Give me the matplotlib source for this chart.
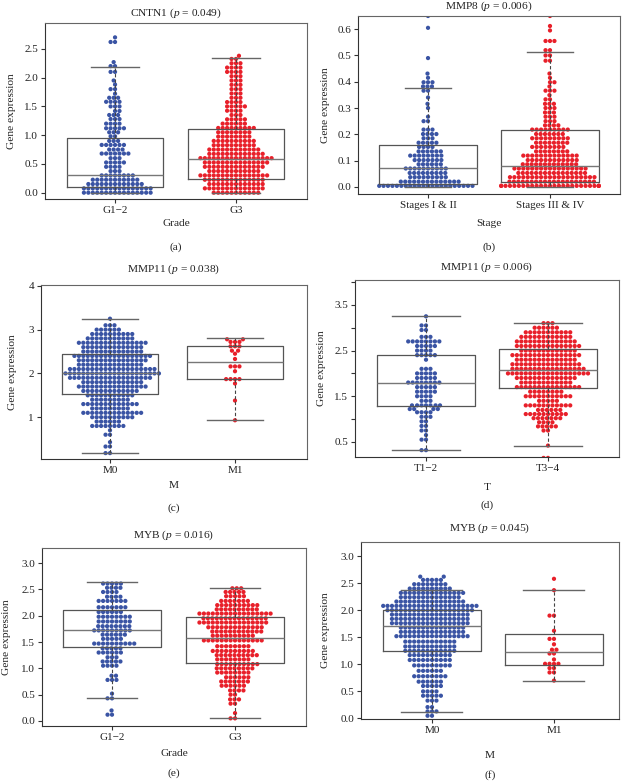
import matplotlib
matplotlib.use("Agg")
import matplotlib.pyplot as plt
import numpy as np
import pandas as pd
import seaborn as sns
import warnings

warnings.filterwarnings("ignore")

plt.rcParams['font.family'] = ['Liberation Serif', 'DejaVu Serif']
plt.rcParams['mathtext.fontset'] = 'custom'
plt.rcParams['mathtext.rm'] = 'Liberation Serif'
plt.rcParams['mathtext.it'] = 'Liberation Serif:italic'

W, H = 626, 781
BLUE = '#3a54a4'
RED = '#e8202a'

# ---- (a) CNTN1 by grade: swarm rows (value, number of points)
cntn1_g12_vals = [0.0, 0.075, 0.15, 0.225, 0.30, 0.375, 0.45, 0.525, 0.60, 0.68, 0.75, 0.83, 0.90,
                  0.98, 1.05, 1.12, 1.20, 1.28, 1.35, 1.42, 1.50, 1.58, 1.65, 1.72, 1.80, 1.88, 1.95,
                  2.10, 2.20, 2.27, 2.62, 2.70]
cntn1_g12_counts = [16, 16, 13, 11, 8, 3, 4, 5, 3, 7, 4, 6, 3, 2, 3, 5, 4, 3, 3, 2, 3, 4, 3, 1, 2, 1,
                    1, 2, 2, 1, 2, 1]
cntn1_g3_vals = [0.0, 0.075, 0.15, 0.225, 0.30, 0.375, 0.45, 0.525, 0.60, 0.675, 0.75, 0.825, 0.90,
                 0.975, 1.05, 1.125, 1.20, 1.275, 1.35, 1.425, 1.50, 1.575, 1.65, 1.725, 1.80, 1.875,
                 1.95, 2.025, 2.10, 2.175, 2.25, 2.325, 2.38]
cntn1_g3_counts = [11, 14, 13, 14, 16, 12, 14, 15, 17, 13, 12, 10, 10, 8, 8, 9, 6, 5, 3, 4, 5, 4, 3, 3,
                   3, 3, 3, 3, 4, 4, 3, 2, 1]
# box stats: [whislo, q1, median, q3, whishi]
cntn1_box = [[0.0, 0.10, 0.30, 0.95, 2.19], [0.0, 0.23, 0.58, 1.10, 2.35]]

# ---- (b) MMP8 by stage
mmp8_early_vals = [0.004, 0.02, 0.037, 0.053, 0.07, 0.086, 0.102, 0.119, 0.135, 0.152, 0.168, 0.185,
                   0.201, 0.218, 0.25, 0.267, 0.30, 0.316, 0.34, 0.366, 0.382, 0.398, 0.415, 0.431,
                   0.49, 0.605, 0.65]
mmp8_early_counts = [22, 14, 9, 9, 10, 6, 7, 8, 6, 4, 5, 3, 4, 3, 2, 1, 1, 1, 1, 2, 3, 3, 1, 1, 1, 1, 1]
mmp8_late_vals = [0.004, 0.02, 0.037, 0.053, 0.07, 0.086, 0.102, 0.119, 0.135, 0.152, 0.168, 0.185,
                  0.201, 0.218, 0.234, 0.25, 0.267, 0.283, 0.30, 0.316, 0.333, 0.349, 0.366, 0.382,
                  0.398, 0.415, 0.431, 0.48, 0.50, 0.52, 0.555, 0.595, 0.612, 0.65]
mmp8_late_counts = [26, 20, 20, 16, 17, 13, 12, 13, 8, 8, 8, 9, 7, 9, 4, 3, 3, 3, 3, 3, 2, 1, 3, 1,
                    2, 1, 1, 2, 2, 2, 3, 1, 1, 1]
mmp8_box = [[0.0, 0.01, 0.07, 0.16, 0.375], [0.0, 0.018, 0.08, 0.218, 0.513]]

# ---- (c) MMP11 by M
mmp11_m0_vals = [0.18, 0.33, 0.43, 0.6, 0.7, 0.8, 0.9, 1.0, 1.1, 1.2, 1.3, 1.4, 1.5, 1.6, 1.7, 1.8,
                 1.9, 2.0, 2.1, 2.2, 2.3, 2.4, 2.5, 2.6, 2.7, 2.8, 2.9, 3.0, 3.1, 3.25]
mmp11_m0_counts = [2, 2, 1, 2, 1, 8, 6, 10, 14, 9, 13, 9, 11, 13, 16, 14, 19, 22, 20, 15, 16, 18, 14,
                   14, 16, 11, 10, 6, 3, 1]
mmp11_m1_vals = [0.93, 1.38, 1.77, 1.87, 2.05, 2.16, 2.33, 2.45, 2.52, 2.62, 2.72, 2.78]
mmp11_m1_counts = [1, 1, 1, 4, 1, 3, 1, 1, 2, 3, 3, 2]
mmp11_m_box = [[0.18, 1.53, 2.0, 2.45, 3.25], [0.93, 1.87, 2.25, 2.63, 2.8]]

# ---- (d) MMP11 by T
mmp11_t12_vals = [0.32, 0.55, 0.65, 0.75, 0.85, 0.95, 1.05, 1.15, 1.22, 1.3, 1.4, 1.5, 1.6, 1.7, 1.8,
                  1.9, 2.0, 2.1, 2.3, 2.4, 2.5, 2.6, 2.7, 2.8, 2.95, 3.05, 3.25]
mmp11_t12_counts = [2, 2, 1, 2, 2, 2, 3, 4, 4, 7, 3, 4, 5, 5, 8, 5, 5, 3, 1, 5, 4, 5, 8, 3, 2, 2, 1]
mmp11_t34_vals = [0.15, 0.42, 0.75, 0.84, 0.93, 1.02, 1.11, 1.2, 1.3, 1.4, 1.5, 1.6, 1.7, 1.8, 1.9,
                  2.0, 2.1, 2.2, 2.3, 2.4, 2.5, 2.6, 2.7, 2.8, 2.9, 3.0, 3.1]
mmp11_t34_counts = [2, 1, 2, 5, 4, 7, 10, 6, 11, 5, 11, 8, 15, 12, 14, 19, 17, 16, 14, 16, 13, 15, 14,
                    12, 11, 6, 3]
mmp11_t_box = [[0.32, 1.28, 1.8, 2.4, 3.25], [0.42, 1.67, 2.08, 2.53, 3.1]]

# ---- (e) MYB by grade
myb_g12_vals = [0.12, 0.2, 0.43, 0.52, 0.78, 0.86, 1.05, 1.13, 1.21, 1.3, 1.38, 1.47, 1.56, 1.64,
                1.72, 1.8, 1.89, 1.98, 2.07, 2.16, 2.28, 2.36, 2.45, 2.53, 2.61]
myb_g12_counts = [2, 1, 2, 1, 3, 2, 4, 5, 3, 6, 5, 10, 5, 6, 9, 8, 8, 8, 6, 7, 7, 4, 4, 4, 5]
myb_g3_vals = [0.05, 0.15, 0.33, 0.41, 0.5, 0.58, 0.67, 0.75, 0.83, 0.92, 1.0, 1.08, 1.17, 1.25, 1.33,
               1.42, 1.53, 1.62, 1.7, 1.78, 1.87, 1.95, 2.04, 2.12, 2.2, 2.28, 2.37, 2.45, 2.52]
myb_g3_counts = [2, 1, 2, 3, 2, 4, 6, 7, 6, 8, 9, 10, 8, 10, 10, 8, 14, 10, 12, 13, 16, 15, 17, 10,
                 10, 7, 5, 5, 3]
myb_grade_box = [[0.43, 1.4, 1.72, 2.1, 2.63], [0.05, 1.1, 1.58, 1.98, 2.52]]

# ---- (f) MYB by M
myb_m0_vals = [0.05, 0.13, 0.21, 0.33, 0.42, 0.5, 0.6, 0.68, 0.78, 0.88, 0.98, 1.08, 1.17, 1.25, 1.33,
               1.42, 1.52, 1.60, 1.68, 1.76, 1.84, 1.92, 2.00, 2.08, 2.16, 2.24, 2.32, 2.40, 2.48,
               2.56, 2.62]
myb_m0_counts = [2, 3, 2, 3, 5, 4, 5, 6, 8, 6, 9, 10, 10, 12, 12, 12, 17, 15, 15, 18, 18, 18, 20, 22,
                 16, 14, 15, 10, 8, 5, 2]
myb_m1_vals = [0.7, 0.85, 0.93, 1.01, 1.09, 1.2, 1.27, 1.37, 1.47, 1.62, 1.9, 2.37, 2.58]
myb_m1_counts = [1, 2, 2, 4, 1, 2, 2, 1, 2, 1, 2, 1, 1]
myb_m_box = [[0.12, 1.25, 1.7, 2.01, 2.38], [0.7, 0.98, 1.22, 1.56, 2.38]]


def px_rect(l, t, r, b):
    return [l / W, 1 - b / H, (r - l) / W, (b - t) / H]


def panel(rect, cats, groups, box, ylim, yticks, ylabels, title, xlabel, letter,
          xlim, box_w, cap_w, title_y, xlab_y, letter_y, ylab_x):
    l, t, r, b = rect
    ax = fig.add_axes(px_rect(l, t, r, b))
    frames = []
    for c, (vals, cnts) in zip(cats, groups):
        frames.append(pd.DataFrame({'grp': c, 'val': np.repeat(vals, cnts)}))
    df = pd.concat(frames, ignore_index=True)
    sns.swarmplot(data=df, x='grp', y='val', hue='grp', order=cats, hue_order=cats,
                  palette=[BLUE, RED], size=3.05, linewidth=0, legend=False, ax=ax, zorder=1)
    stats = [dict(whislo=s[0], q1=s[1], med=s[2], q3=s[3], whishi=s[4]) for s in box]
    ax.bxp(stats, positions=[0, 1], widths=box_w, capwidths=cap_w, showfliers=False,
           manage_ticks=False,
           boxprops=dict(color='#555555', linewidth=0.9),
           medianprops=dict(color='#777777', linewidth=1.0),
           whiskerprops=dict(color='#444444', linewidth=0.8, linestyle=(0, (3, 2))),
           capprops=dict(color='#666666', linewidth=1.0), zorder=3)
    ax.set_xlim(*xlim)
    ax.set_ylim(*ylim)
    ax.set_yticks(yticks)
    ax.set_yticklabels(ylabels)
    ax.set_xticks([0, 1])
    ax.set_xticklabels(cats)
    ax.set_xlabel('')
    ax.set_ylabel('')
    ax.tick_params(direction='out', length=3, width=0.8, color='#333333', labelsize=8,
                   labelcolor='#222222', pad=2)
    for side in ['top', 'right']:
        ax.spines[side].set_color('#666666')
        ax.spines[side].set_linewidth(0.8)
    for side in ['left', 'bottom']:
        ax.spines[side].set_color('#333333')
        ax.spines[side].set_linewidth(0.8)
    cx = (l + r) / 2 / W
    fig.text(cx, 1 - title_y / H, title, ha='center', va='center', fontsize=8.2, color='#222222')
    fig.text(cx, 1 - xlab_y / H, xlabel, ha='center', va='center', fontsize=8.2, color='#222222')
    fig.text(cx, 1 - letter_y / H, letter, ha='center', va='center', fontsize=8.2, color='#222222')
    fig.text(ylab_x / W, 1 - (t + b) / 2 / H, 'Gene expression', rotation=90, ha='center',
             va='center', fontsize=8.2, color='#222222')
    return ax


fig = plt.figure(figsize=(W / 100, H / 100), dpi=100)

f1 = lambda v: ['%.1f' % x for x in v]

t_a = [0, 0.5, 1.0, 1.5, 2.0, 2.5]
panel((45, 23, 307, 199), ['G1\u22122', 'G3'],
      [(cntn1_g12_vals, cntn1_g12_counts), (cntn1_g3_vals, cntn1_g3_counts)], cntn1_box,
      (-0.11, 2.95), t_a, f1(t_a), r'CNTN1 ($p$ = 0.049)', 'Grade', '(a)',
      (-0.579, 1.587), 0.8, 0.4, 13, 224, 247, 12)

t_b = [0, 0.1, 0.2, 0.3, 0.4, 0.5, 0.6]
panel((358, 16, 620, 194), ['Stages I & II', 'Stages III & IV'],
      [(mmp8_early_vals, mmp8_early_counts), (mmp8_late_vals, mmp8_late_counts)], mmp8_box,
      (-0.027, 0.65), t_b, f1(t_b), r'MMP8 ($p$ = 0.006)', 'Stage', '(b)',
      (-0.574, 1.574), 0.8, 0.38, 6, 224, 247, 325)

t_c = [1, 2, 3, 4]
panel((41, 285, 307, 459), ['M0', 'M1'],
      [(mmp11_m0_vals, mmp11_m0_counts), (mmp11_m1_vals, mmp11_m1_counts)], mmp11_m_box,
      (0.045, 4.02), t_c, [str(v) for v in t_c], r'MMP11 ($p$ = 0.038)', 'M', '(c)',
      (-0.552, 1.576), 0.77, 0.45, 269, 485, 508, 13)

t_d = [0.5, 1.0, 1.5, 2.0, 2.5, 3.0, 3.5, 4.0]
lab_d = ['0.5', '', '1.5', '', '2.5', '', '3.5', '']
panel((355, 280, 619, 457), ['T1\u22122', 'T3\u22124'],
      [(mmp11_t12_vals, mmp11_t12_counts), (mmp11_t34_vals, mmp11_t34_counts)], mmp11_t_box,
      (0.17, 4.045), t_d, lab_d, r'MMP11 ($p$ = 0.006)', 'T', '(d)',
      (-0.582, 1.582), 0.8, 0.55, 267, 487, 505, 321)

t_e = [0, 0.5, 1.0, 1.5, 2.0, 2.5, 3.0]
panel((42, 548, 306, 726), ['G1\u22122', 'G3'],
      [(myb_g12_vals, myb_g12_counts), (myb_g3_vals, myb_g3_counts)], myb_grade_box,
      (-0.095, 3.285), t_e, f1(t_e), r'MYB ($p$ = 0.016)', 'Grade', '(e)',
      (-0.569, 1.577), 0.8, 0.4, 535, 754, 773, 7)

panel((361, 542, 619, 719), ['M0', 'M1'],
      [(myb_m0_vals, myb_m0_counts), (myb_m1_vals, myb_m1_counts)], myb_m_box,
      (-0.01, 3.26), t_e, f1(t_e), r'MYB ($p$ = 0.045)', 'M', '(f)',
      (-0.582, 1.533), 0.8, 0.5, 528, 755, 775, 326)

fig.savefig('out.png', dpi=100)
